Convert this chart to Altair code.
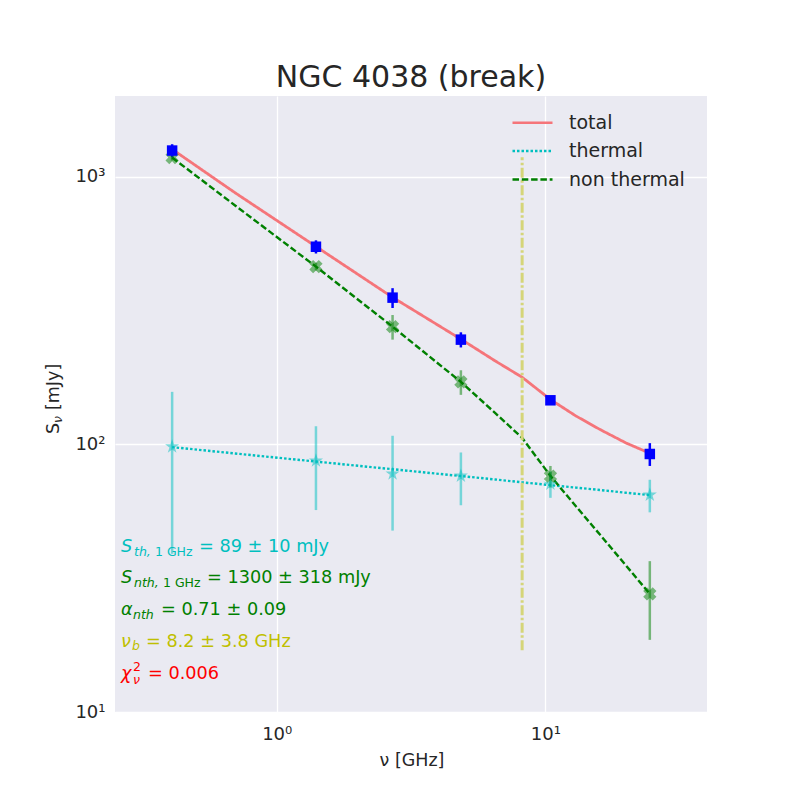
import altair as alt
import pandas as pd

# ---------------- data ----------------
freq = [0.408, 1.4, 2.7, 4.85, 10.45, 24.5]          # GHz
total_obs = [1251, 547, 353, 246, 146, 92]            # mJy
total_err = [70, 31, 30, 16, 5, 9]
nth_obs = [1178, 461, 275, 171, 76, 27.6]
nth_err = [30, 15, 29, 18, 7, 9]
th_obs = [98, 86.8, 77.6, 76.2, 71.1, 64.7]
th_err = [59, 30, 30, 17, 8, 9]

model_freq = [0.408, 0.7, 1.4, 2.7, 4.85, 6.5, 8.2, 10.45, 13, 16, 20, 24.5]
model_total = [1265, 870, 548, 354, 247, 205, 178, 147, 127.6, 113.5, 101.1, 92.6]
model_th = [97.6, 92.4, 86.2, 80.7, 76.1, 73.9, 72.1, 70.4, 68.9, 67.5, 65.9, 64.6]
model_nth = [1178, 780, 461, 275, 171, 131, 105.7, 76.2, 58.7, 45.9, 35.2, 27.6]

break_freq = [8.2]
break_lo = [17]
break_hi = [1180]

components = ["total", "thermal", "non thermal"]
comp_colors = ["#F5757A", "#00BFBF", "#008000"]
comp_dash = [[1, 0], [2.5, 2], [6.5, 2.8]]

# ---------------- frames ----------------
obs = pd.DataFrame({"freq": freq, "tot": total_obs, "tot_err": total_err,
                    "nth": nth_obs, "nth_err": nth_err,
                    "th": th_obs, "th_err": th_err})
models = pd.DataFrame({"freq": model_freq, "total": model_total,
                       "thermal": model_th, "non thermal": model_nth})
brk = pd.DataFrame({"freq": break_freq, "lo": break_lo, "hi": break_hi})

xscale = alt.Scale(type="log", domain=[0.25, 40], nice=False)
yscale = alt.Scale(type="log", domain=[10, 2000], nice=False)
sup = "'10' + (datum.value >= 1000 ? '³' : datum.value >= 100 ? '²' : datum.value >= 10 ? '¹' : '⁰')"
xaxis = alt.Axis(values=[1, 10], labelExpr=sup, title=None, labelPadding=13)
yaxis = alt.Axis(values=[10, 100, 1000], labelExpr=sup, title=None, labelPadding=10)

X = alt.X("freq:Q", scale=xscale, axis=xaxis)
color_enc = alt.Color("component:N", scale=alt.Scale(domain=components, range=comp_colors),
                      legend=alt.Legend(title=None))
dash_enc = alt.StrokeDash("component:N", scale=alt.Scale(domain=components, range=comp_dash),
                          legend=alt.Legend(title=None))

total_line = alt.Chart(models).transform_fold(
    ["total"], as_=["component", "flux"]
).mark_line(strokeWidth=2.8).encode(
    x=X, y=alt.Y("flux:Q", scale=yscale, axis=yaxis), color=color_enc, strokeDash=dash_enc)

comp_lines = alt.Chart(models).transform_fold(
    ["thermal", "non thermal"], as_=["component", "flux"]
).mark_line(strokeWidth=2.4).encode(
    x="freq:Q", y=alt.Y("flux:Q", scale=yscale), color=color_enc, strokeDash=dash_enc)

vline = alt.Chart(brk).mark_rule(color="#D5D579", strokeWidth=3,
                                 strokeDash=[10, 2.5, 2.5, 2.5]).encode(
    x="freq:Q", y=alt.Y("lo:Q", scale=yscale), y2="hi:Q")


def errbars(col, ecol, color, opacity):
    return alt.Chart(obs).transform_calculate(
        lo=f"datum.{col} - datum.{ecol}", hi=f"datum.{col} + datum.{ecol}"
    ).mark_rule(color=color, strokeWidth=2.5, opacity=opacity).encode(
        x="freq:Q", y=alt.Y("lo:Q", scale=yscale), y2="hi:Q")


STAR = ("M0,-1L0.2245,-0.309L0.951,-0.309L0.363,0.118L0.588,0.809L0,0.382"
        "L-0.588,0.809L-0.363,0.118L-0.951,-0.309L-0.2245,-0.309Z")

th_pts = alt.Chart(obs).mark_point(shape=STAR, filled=True, size=220, color="#00BFBF",
                                   opacity=0.5).encode(x="freq:Q", y=alt.Y("th:Q", scale=yscale))
nth_pts = alt.Chart(obs).mark_point(shape="cross", angle=45, filled=True, size=180,
                                    color="#008000", opacity=0.5).encode(
    x="freq:Q", y=alt.Y("nth:Q", scale=yscale))
tot_pts = alt.Chart(obs).mark_square(size=110, color="#0000FF", opacity=1).encode(
    x="freq:Q", y=alt.Y("tot:Q", scale=yscale))

anchor = pd.DataFrame({"k": [0]})
OX, OY = 115, 96


def txt(s, px, py, size, color, italic=False, angle=0, align="left"):
    kw = dict(text=s, align=align, baseline="alphabetic", font="DejaVu Sans",
              fontSize=size, color=color)
    if italic:
        kw["fontStyle"] = "italic"
    if angle:
        kw["angle"] = angle
    return alt.Chart(anchor).mark_text(**kw).encode(x=alt.value(px - OX), y=alt.value(py - OY))


CY, GR, YE, RD, DK = "#00BFBF", "#008000", "#BFBF00", "#FF0000", "#262626"
M, S = 17.7, 12.5
texts = [
    txt("S", 121, 552, M, CY, True), txt("th,", 134, 556, S, CY, True),
    txt("1 GHz", 155, 556, S, CY), txt("= 89 ± 10 mJy", 199, 552, M, CY),
    txt("S", 121, 583, M, GR, True), txt("nth,", 134, 587, S, GR, True),
    txt("1 GHz", 163, 587, S, GR), txt("= 1300 ± 318 mJy", 207, 583, M, GR),
    txt("α", 121, 615, M, GR, True), txt("nth", 133, 618.5, S, GR, True),
    txt("= 0.71 ± 0.09", 161, 615, M, GR),
    txt("ν", 121, 647, M, YE, True), txt("b", 132, 650, S, YE, True),
    txt("= 8.2 ± 3.8 GHz", 146, 647, M, YE),
    txt("χ", 121, 679, M, RD, True), txt("2", 133, 670.5, S, RD),
    txt("ν", 133, 684, S, RD, True), txt("= 0.006", 148, 679, M, RD),
    # axis titles
    txt("ν [GHz]", 412, 766, 17.5, DK, align="center"),
    txt("S", 59, 434, 17.5, DK, angle=270),
    txt("ν", 62, 423, 12.5, DK, italic=True, angle=270),
    txt("[mJy]", 59, 410, 17.5, DK, angle=270),
]

chart = alt.layer(
    total_line, comp_lines, vline,
    errbars("th", "th_err", "#00BFBF", 0.5),
    errbars("nth", "nth_err", "#008000", 0.5),
    errbars("tot", "tot_err", "#0000FF", 1.0),
    th_pts, nth_pts, tot_pts,
    *texts,
).properties(
    width=592, height=616,
    title=alt.TitleParams("NGC 4038 (break)", fontSize=30, font="DejaVu Sans",
                          fontWeight="normal", color=DK, anchor="middle", offset=-21,
                          baseline="alphabetic", frame="group"),
    padding={"left": 107, "top": 88, "right": 85, "bottom": 80},
    autosize="none",
).configure_view(
    fill="#EAEAF2", stroke=None
).configure_axis(
    grid=True, gridColor="#FFFFFF", gridWidth=1.3, domain=False, ticks=False, tickSize=0,
    labelFont="DejaVu Sans", labelFontSize=18, labelColor=DK,
).configure_legend(
    orient="none", legendX=396, legendY=17.2, padding=0, rowPadding=8.4, clipHeight=19,
    labelFont="DejaVu Sans", labelFontSize=19, labelColor=DK, labelOffset=15,
    symbolType="stroke", symbolSize=1600, symbolStrokeWidth=2.5,
)

chart.save("out.html", embed_options={"renderer": "svg", "actions": False})
